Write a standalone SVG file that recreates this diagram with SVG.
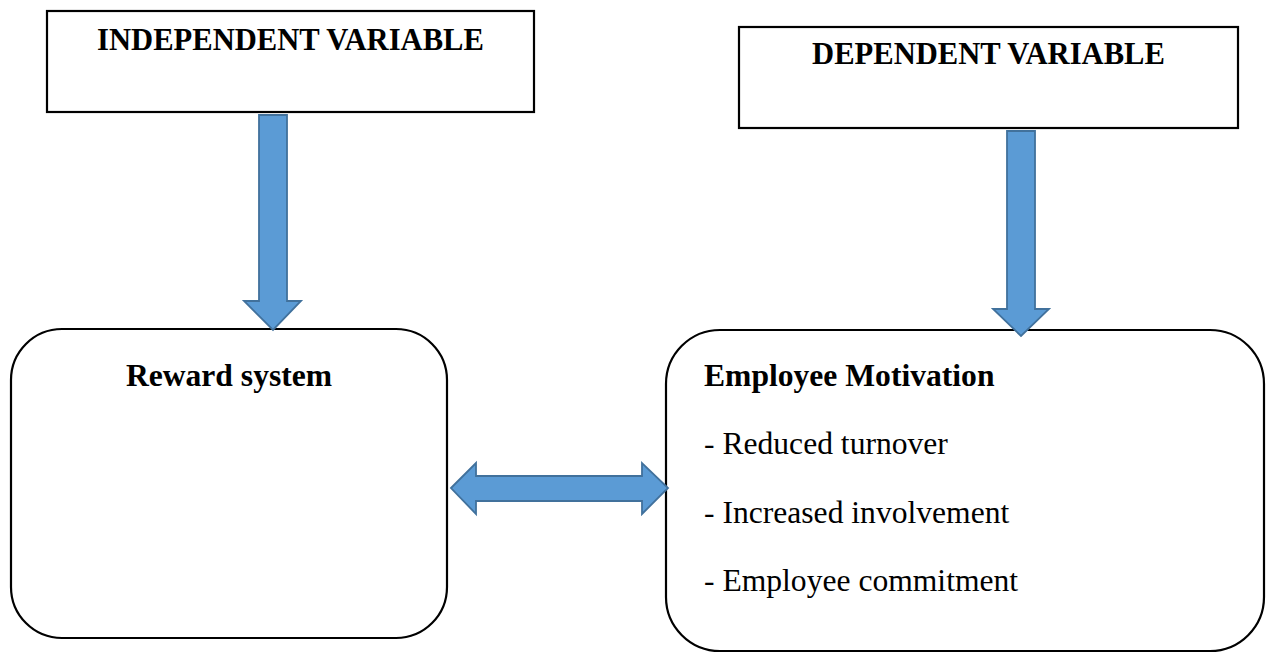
<svg xmlns="http://www.w3.org/2000/svg" width="1266" height="653" viewBox="0 0 1266 653">
  <style>
    .box { fill: #ffffff; stroke: #000000; stroke-width: 2.2; }
    .arrow { fill: #5B9BD5; stroke: #41719C; stroke-width: 1.8; stroke-linejoin: miter; }
    .head { font-family: "Liberation Serif", "Times New Roman", serif; font-weight: bold; font-size: 30.6px; fill: #000000; }
    .title { font-family: "Liberation Serif", "Times New Roman", serif; font-weight: bold; font-size: 31.6px; fill: #000000; }
    .item { font-family: "Liberation Serif", "Times New Roman", serif; font-size: 31.6px; fill: #000000; }
  </style>
  <rect width="1266" height="653" fill="#ffffff"/>

  <g id="independent-variable">
    <rect class="box" x="47" y="11" width="487" height="101"/>
    <text class="head" x="290.5" y="50" text-anchor="middle">INDEPENDENT VARIABLE</text>
  </g>

  <g id="dependent-variable">
    <rect class="box" x="739" y="27" width="499" height="101"/>
    <text class="head" x="988.5" y="64" text-anchor="middle">DEPENDENT VARIABLE</text>
  </g>

  <g id="reward-system">
    <rect class="box" x="11" y="329" width="436" height="309" rx="51" ry="51"/>
    <text class="title" x="229" y="386" text-anchor="middle">Reward system</text>
  </g>

  <g id="employee-motivation">
    <rect class="box" x="666" y="330" width="598" height="321" rx="54" ry="54"/>
    <text class="title" x="704" y="386">Employee Motivation</text>
    <text class="item" x="704" y="454">- Reduced turnover</text>
    <text class="item" x="704" y="523">- Increased involvement</text>
    <text class="item" x="704" y="591">- Employee commitment</text>
  </g>

  <g id="connectors">
    <!-- independent variable down to reward system -->
    <polygon class="arrow" points="259,115 287,115 287,301 301,301 273,330 244,301 259,301"/>
    <!-- dependent variable down to employee motivation -->
    <polygon class="arrow" points="1007,131 1035,131 1035,309 1049,309 1021,336 993,309 1007,309"/>
    <!-- two-way link between the lower boxes -->
    <polygon class="arrow" points="451,488 476,463 476,476 642,476 642,463 668,488 642,514 642,501 476,501 476,514"/>
  </g>
</svg>
